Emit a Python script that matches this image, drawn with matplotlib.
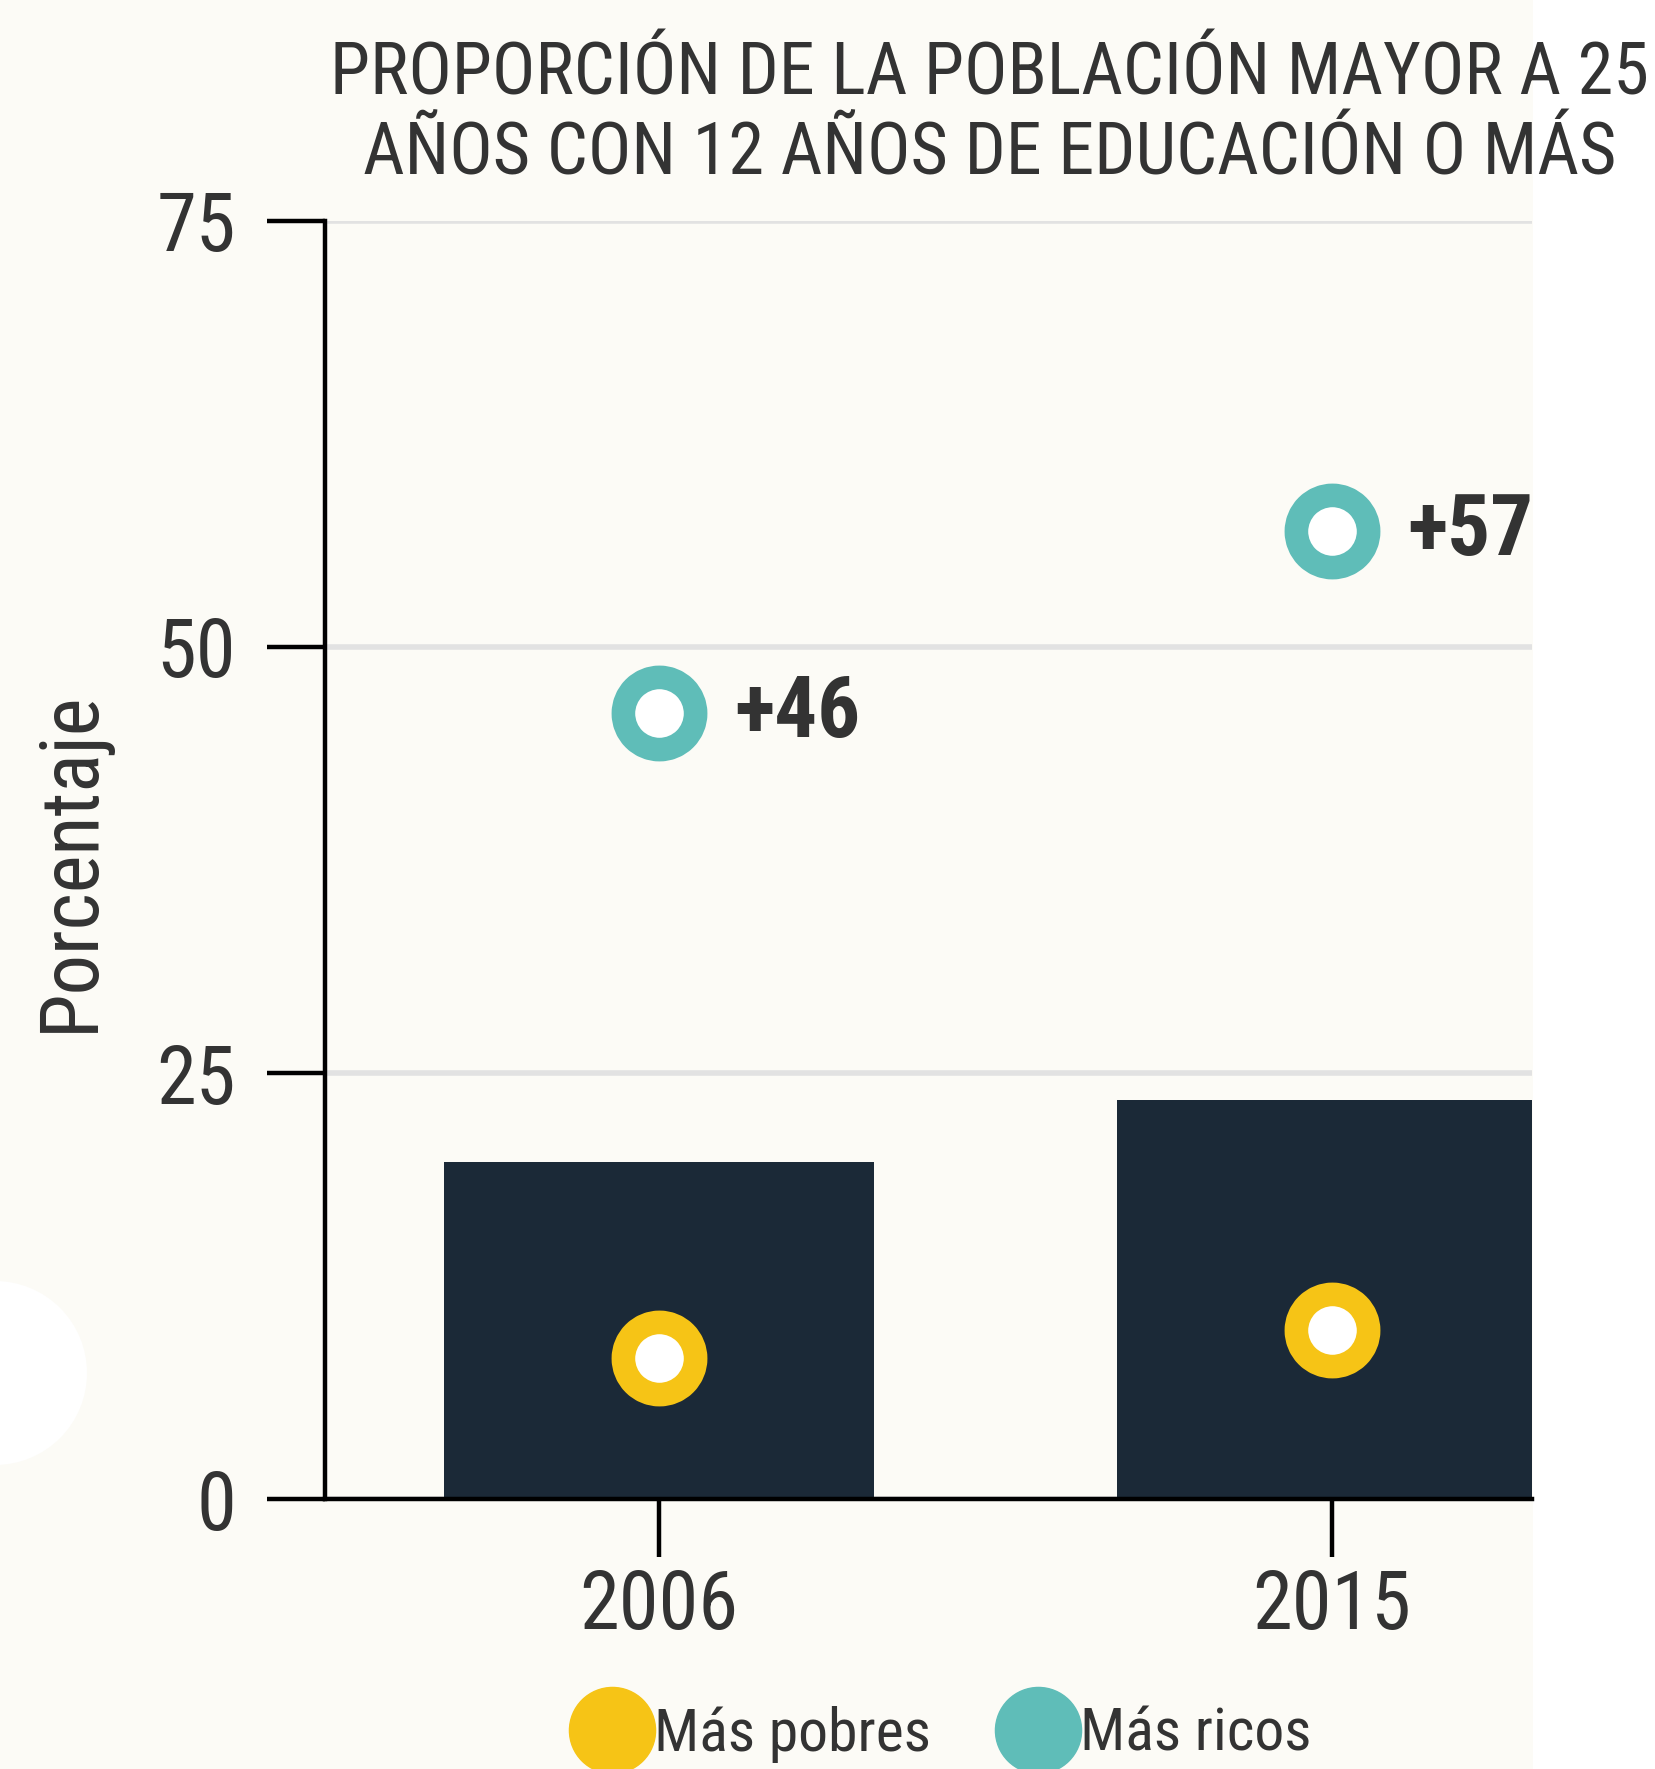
import matplotlib
matplotlib.use("Agg")
import matplotlib.pyplot as plt
import numpy as np
from matplotlib.lines import Line2D
from matplotlib.patches import Circle, Rectangle

plt.rcParams['font.family'] = ['Roboto Condensed', 'DejaVu Sans']

# data
years = ["2006", "2015"]
promedio = [19.8, 23.4]      # dark bars
mas_pobres = [8.3, 9.9]
mas_ricos = [46.1, 56.8]
ytick_vals = [0, 25, 50, 75]

bg = "#fcfbf6"
navy = "#1b2937"
yellow = "#f6c416"
teal = "#5fbdb8"
txt = "#333333"

fig = plt.figure(figsize=(16.56, 17.69), dpi=100, facecolor=bg)
# white strip to the right of the plot and faint white blob on the left
fig.patches.append(Rectangle((15.33, 0), 1.3, 17.69, transform=fig.dpi_scale_trans,
                             facecolor="white", edgecolor="none", zorder=-10))
fig.patches.append(Circle((-0.05, 3.96), 0.92, transform=fig.dpi_scale_trans,
                          facecolor="white", edgecolor="none", zorder=-10))

ax = fig.add_axes([0.1963, 0.1526, 0.7289, 0.7225])
ax.set_facecolor(bg)

x = np.arange(len(years))
ax.bar(x, promedio, width=0.64, color=navy, zorder=2)

ax.plot(x, mas_pobres, linestyle="none", marker="o", ms=52, mew=17,
        mfc="white", mec=yellow, zorder=3)
ax.plot(x, mas_ricos, linestyle="none", marker="o", ms=52, mew=17,
        mfc="white", mec=teal, zorder=3)

for xi, v in zip(x, mas_ricos):
    ax.annotate(f"+{v:.0f}", (xi, v), xytext=(54, 0), textcoords="offset points",
                ha="left", va="center", fontsize=61, fontweight="bold", color=txt)

ax.set_xlim(-0.496, 1.297)
ax.set_ylim(0, 75)
ax.set_yticks(ytick_vals)
ax.set_xticks(x)
ax.set_xticklabels(years)
ax.yaxis.grid(True, color="#e2e2e2", linewidth=4, zorder=0)
ax.set_axisbelow(True)

for s in ["top", "right"]:
    ax.spines[s].set_visible(False)
for s in ["left", "bottom"]:
    ax.spines[s].set_linewidth(3.2)
    ax.spines[s].set_color("black")
ax.spines["bottom"].set_zorder(4)

ax.tick_params(axis="both", length=42, width=3.2, color="black", labelcolor=txt, labelsize=58)
ax.tick_params(axis="y", pad=22)
ax.tick_params(axis="x", pad=8)

fig.text(71 / 1656, 1 - 861 / 1769, "Porcentaje", rotation=90, ha="center", va="center",
         fontsize=58, color=txt)

fig.text(990 / 1656, 1 - 115 / 1769,
         "PROPORCIÓN DE LA POBLACIÓN MAYOR A 25\nAÑOS CON 12 AÑOS DE EDUCACIÓN O MÁS",
         ha="center", va="center", fontsize=52, color=txt, linespacing=1.2)

handles = [Line2D([], [], linestyle="none", marker="o", ms=62, color=yellow, label="Más pobres"),
           Line2D([], [], linestyle="none", marker="o", ms=62, color=teal, label="Más ricos")]
fig.legend(handles=handles, loc="center", bbox_to_anchor=(944 / 1656, 35 / 1769), ncol=2,
           frameon=False, fontsize=43, handlelength=1.2, handletextpad=0.1,
           columnspacing=1.2, labelcolor=txt, borderpad=0)

fig.savefig("out.png", dpi=100, facecolor=bg)
